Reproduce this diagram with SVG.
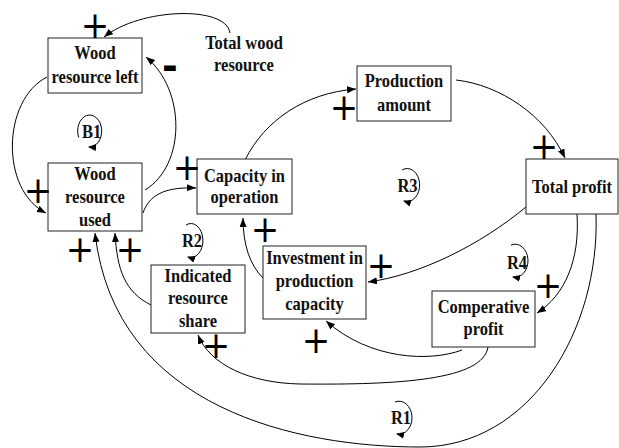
<svg xmlns="http://www.w3.org/2000/svg" width="619" height="448" viewBox="0 0 619 448">
<style>
.box{fill:#fff;stroke:#222;stroke-width:1}
.t{font-family:"Liberation Serif","Times New Roman",serif;font-weight:bold;font-size:16.5px;fill:#111;text-anchor:middle}
.c{fill:none;stroke:#000;stroke-width:1}
.p{font-family:"DejaVu Sans",sans-serif;font-size:34px;fill:#000;text-anchor:middle}
.m{font-family:"Liberation Sans",Arial,sans-serif;font-weight:bold;font-size:46px;fill:#000;text-anchor:middle}
</style>
<defs>
<marker id="ah" markerUnits="userSpaceOnUse" markerWidth="10" markerHeight="8" refX="9" refY="3.5" orient="auto">
<path d="M0,0 L9,3.5 L0,7 z" fill="#000"/>
</marker>
<marker id="la" markerUnits="userSpaceOnUse" markerWidth="9" markerHeight="8" refX="7" refY="3.5" orient="auto">
<path d="M0,0 L8,3.5 L0,7 z" fill="#000"/>
</marker>
</defs>
<rect width="619" height="448" fill="#fff"/>

<g id="connectors">
<path class="c" marker-end="url(#ah)" d="M230,33 C226,5 140,8 104,37"/>
<path class="c" marker-end="url(#ah)" d="M47,77 C2,100 0,190 46,213"/>
<path class="c" marker-end="url(#ah)" d="M145,190 C186,165 186,90 146,57"/>
<path class="c" marker-end="url(#ah)" d="M143,213 C150,192 170,187 196,188"/>
<path class="c" marker-end="url(#ah)" d="M245,160 C265,120 305,93 356,89"/>
<path class="c" marker-end="url(#ah)" d="M456,80 C500,85 545,115 565,158"/>
<path class="c" marker-end="url(#ah)" d="M526,207 C480,245 420,275 368,282"/>
<path class="c" marker-end="url(#ah)" d="M263,278 C250,265 243,245 243,218"/>
<path class="c" marker-end="url(#ah)" d="M577,214 C580,260 565,295 537,313"/>
<path class="c" marker-end="url(#ah)" d="M596,214 C600,330 530,447 420,447 C300,447 115,410 95,233"/>
<path class="c" marker-end="url(#ah)" d="M488,347 C483,380 400,385 300,384 C250,383 210,365 198,335"/>
<path class="c" marker-end="url(#ah)" d="M462,350 C430,362 370,360 326,321"/>
<path class="c" marker-end="url(#ah)" d="M151,305 C125,292 117,270 115,233"/>
</g>

<g id="wood-resource-left">
<rect class="box" x="48" y="38" width="94" height="55"/>
<text class="t" transform="translate(95,59.3) scale(1,1.2)"><tspan x="0" y="0">Wood</tspan><tspan x="0" dy="19.5">resource left</tspan></text>
</g>
<g id="wood-resource-used">
<rect class="box" x="48" y="163" width="94" height="68"/>
<text class="t" transform="translate(95,180) scale(1,1.2)"><tspan x="0" y="0">Wood</tspan><tspan x="0" dy="19.2">resource</tspan><tspan x="0" dy="19.2">used</tspan></text>
</g>
<g id="capacity-in-operation">
<rect class="box" x="197" y="159" width="95" height="55"/>
<text class="t" transform="translate(244.5,181.7) scale(1,1.2)"><tspan x="0" y="0">Capacity in</tspan><tspan x="0" dy="18">operation</tspan></text>
</g>
<g id="production-amount">
<rect class="box" x="357" y="66" width="94" height="55"/>
<text class="t" transform="translate(404,87.3) scale(1,1.2)"><tspan x="0" y="0">Production</tspan><tspan x="0" dy="19.5">amount</tspan></text>
</g>
<g id="total-profit">
<rect class="box" x="526" y="159" width="92" height="55"/>
<text class="t" transform="translate(572,193) scale(1,1.2)"><tspan x="0" y="0">Total profit</tspan></text>
</g>
<g id="investment-in-production-capacity">
<rect class="box" x="263" y="246" width="103" height="73"/>
<text class="t" transform="translate(314.5,264) scale(1,1.2)"><tspan x="0" y="0">Investment in</tspan><tspan x="0" dy="19">production</tspan><tspan x="0" dy="19">capacity</tspan></text>
</g>
<g id="indicated-resource-share">
<rect class="box" x="151" y="265" width="94" height="68"/>
<text class="t" transform="translate(198,281.7) scale(1,1.2)"><tspan x="0" y="0">Indicated</tspan><tspan x="0" dy="18.9">resource</tspan><tspan x="0" dy="18.9">share</tspan></text>
</g>
<g id="comperative-profit">
<rect class="box" x="432" y="291" width="103" height="56"/>
<text class="t" transform="translate(483.5,312.7) scale(1,1.2)"><tspan x="0" y="0">Comperative</tspan><tspan x="0" dy="18.6">profit</tspan></text>
</g>
<g id="total-wood-resource">
<text class="t" transform="translate(244,49) scale(1,1.2)"><tspan x="0" y="0">Total wood</tspan><tspan x="0" dy="18.7">resource</tspan></text>
</g>

<g id="loops">
<path class="c" marker-end="url(#la)" d="M78.7,137.5 A12,16 0 1 1 89,147"/>
<text class="t" transform="translate(91.5,137.5) scale(1,1.2)">B1</text>
<path class="c" marker-end="url(#la)" d="M402,170 A12.5,16.5 0 1 1 404,201"/>
<text class="t" transform="translate(407.5,192) scale(1,1.2)">R3</text>
<path class="c" marker-end="url(#la)" d="M186,225 A12,17 0 1 1 188,257"/>
<text class="t" transform="translate(192,247) scale(1,1.2)">R2</text>
<path class="c" marker-end="url(#la)" d="M511,245 A13,16.5 0 1 1 513,277"/>
<text class="t" transform="translate(517,269) scale(1,1.2)">R4</text>
<path class="c" marker-end="url(#la)" d="M395,402 A13,16.5 0 1 1 397,434"/>
<text class="t" transform="translate(401,424) scale(1,1.2)">R1</text>
</g>

<g id="polarities">
<text class="p" transform="translate(95,25) scale(1,1.1)" y="11.5">+</text>
<text class="p" transform="translate(38,190) scale(1,1.1)" y="11.5">+</text>
<text class="p" transform="translate(187,167) scale(1,1.1)" y="11.5">+</text>
<text class="p" transform="translate(344,107) scale(1,1.1)" y="11.5">+</text>
<text class="p" transform="translate(544,146) scale(1,1.1)" y="11.5">+</text>
<text class="p" transform="translate(265,229) scale(1,1.1)" y="11.5">+</text>
<text class="p" transform="translate(381,265) scale(1,1.1)" y="11.5">+</text>
<text class="p" transform="translate(548,285) scale(1,1.1)" y="11.5">+</text>
<text class="p" transform="translate(316,340) scale(1,1.1)" y="11.5">+</text>
<text class="p" transform="translate(216,345) scale(1,1.1)" y="11.5">+</text>
<text class="p" transform="translate(80,249) scale(1,1.1)" y="11.5">+</text>
<text class="p" transform="translate(130,249) scale(1,1.1)" y="11.5">+</text>
<text class="m" transform="translate(170,68)" y="12">-</text>
</g>
</svg>
